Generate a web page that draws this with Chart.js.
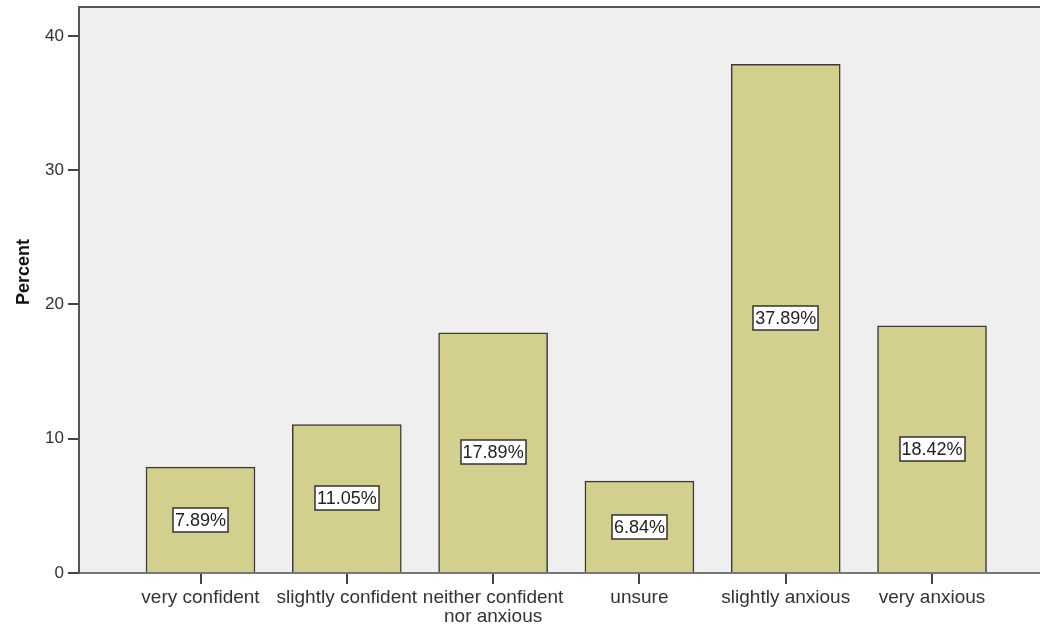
<!DOCTYPE html>
<html>
<head>
<meta charset="utf-8">
<title>Percent by confidence level</title>
<script src="https://cdn.jsdelivr.net/npm/chart.js@4/dist/chart.umd.min.js"></script>
<style>
  html, body { margin: 0; padding: 0; background: #ffffff; overflow: hidden; }
  #wrap { width: 1040px; height: 627px; position: relative; }
</style>
</head>
<body>
<div id="wrap"><canvas id="chart" width="1040" height="627"></canvas></div>
<script>
// Response categories (multi-line labels are arrays)
const categories = [
  'very confident',
  'slightly confident',
  ['neither confident', 'nor anxious'],
  'unsure',
  'slightly anxious',
  'very anxious'
];
// Percent of respondents per category
const percents = [7.89, 11.05, 17.89, 6.84, 37.89, 18.42];
// Y axis tick values
const yTicks = [0, 10, 20, 30, 40];

const FONT = '"Liberation Sans", Arial, sans-serif';

// Grey plot background plus the top frame line
const plotFrame = {
  id: 'plotFrame',
  beforeDraw(chart) {
    const { ctx, chartArea: a } = chart;
    ctx.save();
    ctx.fillStyle = '#efefef';
    ctx.fillRect(a.left, a.top, a.right - a.left, a.bottom - a.top);
    ctx.strokeStyle = '#555555';
    ctx.lineWidth = 2;
    ctx.beginPath();
    ctx.moveTo(a.left - 1, a.top);
    ctx.lineTo(a.right, a.top);
    ctx.stroke();
    ctx.restore();
  }
};

// Boxed percentage label at the middle of each bar
const barLabels = {
  id: 'barLabels',
  afterDatasetsDraw(chart) {
    const { ctx } = chart;
    const meta = chart.getDatasetMeta(0);
    ctx.save();
    ctx.font = '18px ' + FONT;
    ctx.textAlign = 'center';
    ctx.textBaseline = 'middle';
    meta.data.forEach((bar, i) => {
      const text = percents[i].toFixed(2) + '%';
      const cx = bar.x;
      const cy = (bar.y + bar.base) / 2;
      const w = ctx.measureText(text).width + 4;
      const h = 24;
      ctx.fillStyle = '#ffffff';
      ctx.fillRect(Math.round(cx - w / 2), Math.round(cy - h / 2), Math.round(w), h);
      ctx.strokeStyle = '#333333';
      ctx.lineWidth = 1.5;
      ctx.strokeRect(Math.round(cx - w / 2), Math.round(cy - h / 2), Math.round(w), h);
      ctx.fillStyle = '#222222';
      ctx.fillText(text, cx, cy + 1);
    });
    ctx.restore();
  }
};

// Rotated y-axis title
const yTitle = {
  id: 'yTitle',
  afterDraw(chart) {
    const { ctx } = chart;
    ctx.save();
    ctx.translate(24, 272);
    ctx.rotate(-Math.PI / 2);
    ctx.font = 'bold 18px ' + FONT;
    ctx.fillStyle = '#111111';
    ctx.textAlign = 'center';
    ctx.textBaseline = 'middle';
    ctx.fillText('Percent', 0, 0);
    ctx.restore();
  }
};

new Chart(document.getElementById('chart'), {
  type: 'bar',
  data: {
    datasets: [{
      data: percents.map((v, i) => ({ x: i, y: v })),
      backgroundColor: '#d3cf8d',
      borderColor: '#3a3a3a',
      borderWidth: 1.5,
      barThickness: 109
    }]
  },
  options: {
    responsive: false,
    animation: false,
    layout: { padding: { top: 0, right: 0, bottom: 0, left: 0 } },
    plugins: {
      legend: { display: false },
      tooltip: { enabled: false }
    },
    scales: {
      x: {
        type: 'linear',
        offset: false,
        min: -0.8305,
        max: 5.738,
        afterBuildTicks(scale) {
          scale.ticks = categories.map((_, i) => ({ value: i }));
        },
        afterFit(scale) { scale.height = 54; },
        ticks: {
          autoSkip: false,
          maxRotation: 0,
          padding: 4,
          color: '#333333',
          font: { family: FONT, size: 19, lineHeight: 1.0 },
          callback: (v) => categories[v]
        },
        grid: {
          offset: false,
          drawOnChartArea: false,
          drawTicks: true,
          tickLength: 11,
          color: '#444444',
          lineWidth: 2
        },
        border: { display: true, color: '#777777', width: 2 }
      },
      y: {
        min: 0,
        max: 42.16,
        afterBuildTicks(scale) {
          scale.ticks = yTicks.map(v => ({ value: v }));
        },
        afterFit(scale) {
          scale.width = 79;
          scale.paddingTop = 7;
        },
        ticks: {
          padding: 4,
          color: '#333333',
          font: { family: FONT, size: 17 }
        },
        grid: {
          drawOnChartArea: false,
          drawTicks: true,
          tickLength: 11,
          color: '#444444',
          lineWidth: 2
        },
        border: { display: true, color: '#555555', width: 2 }
      }
    }
  },
  plugins: [plotFrame, barLabels, yTitle]
});
</script>
</body>
</html>
